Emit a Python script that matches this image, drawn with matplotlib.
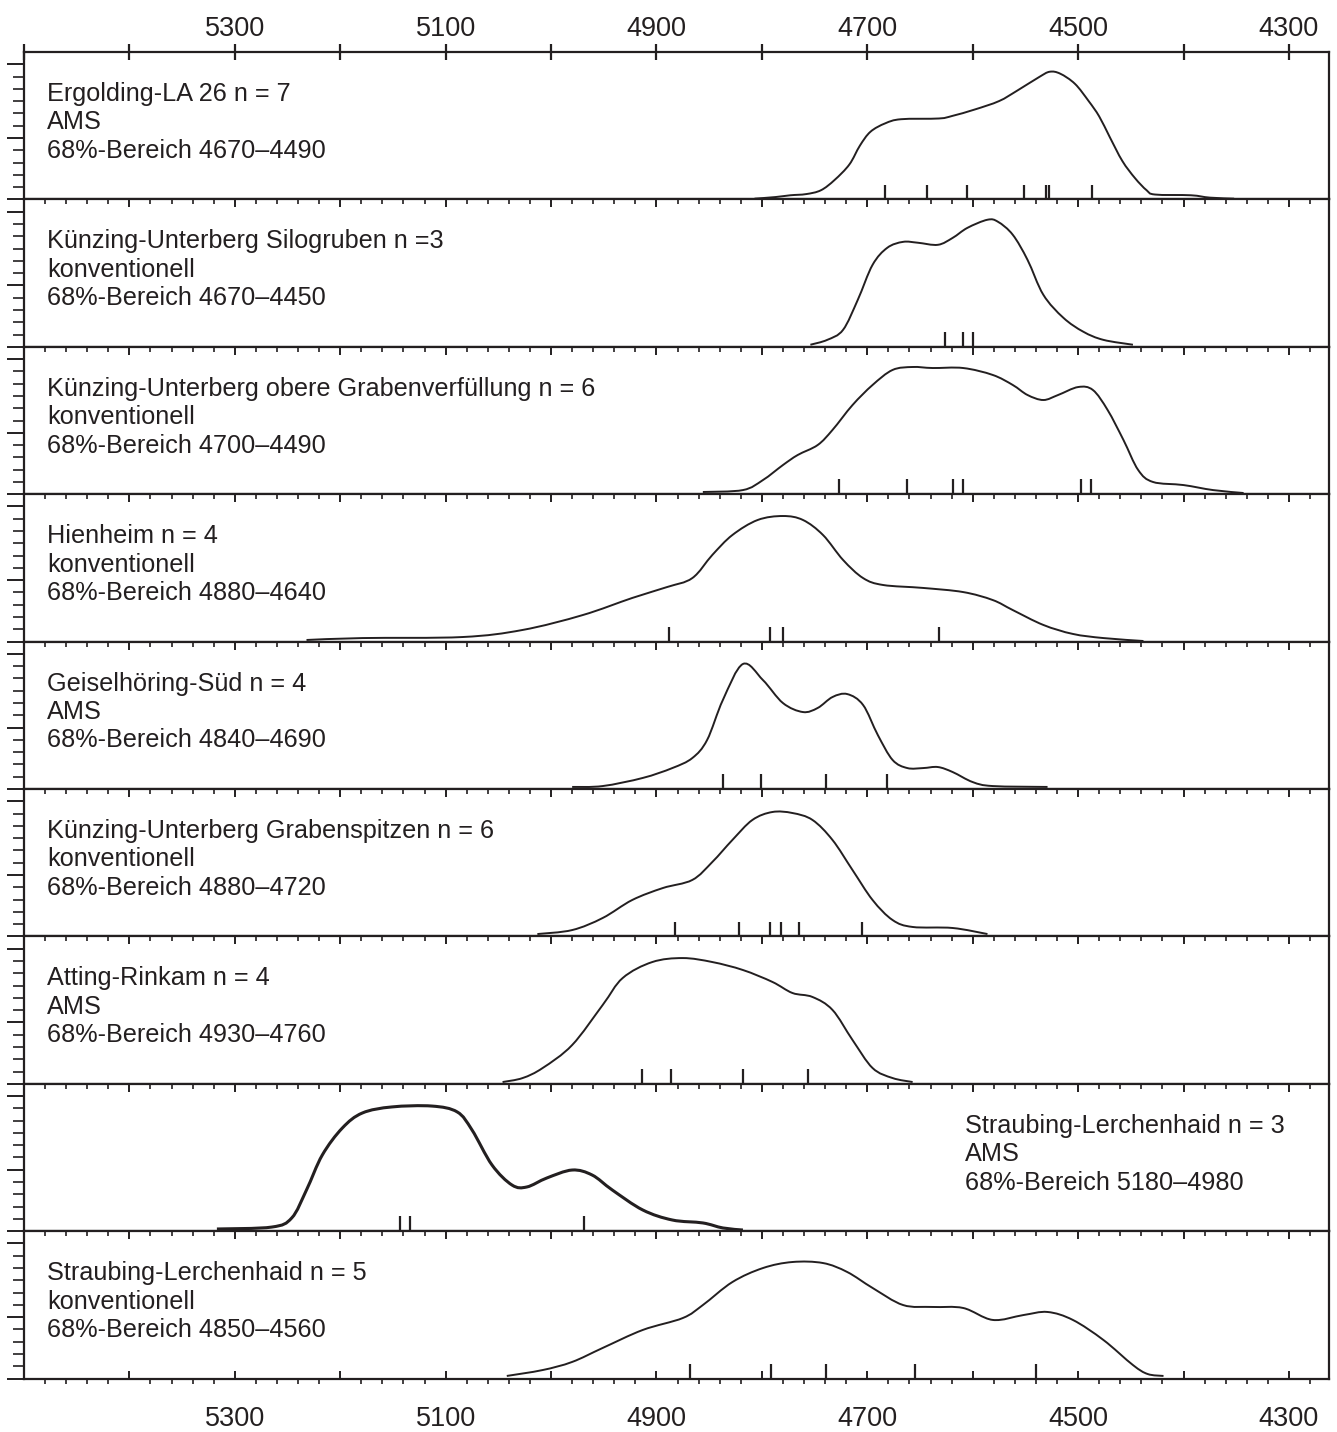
import matplotlib
matplotlib.use("Agg")
import numpy as np
import matplotlib.pyplot as plt
from matplotlib.path import Path
from matplotlib.patches import PathPatch
from matplotlib.ticker import MultipleLocator, FixedLocator, FuncFormatter

plt.rcParams['font.family'] = ['Liberation Sans', 'DejaVu Sans']

# ---- data: calibrated age (cal BC) and relative probability (% of panel height) ----
titles = [
    ["Ergolding-LA 26 n = 7", "AMS", "68%-Bereich 4670\u20134490"],
    ["K\u00fcnzing-Unterberg Silogruben n =3", "konventionell", "68%-Bereich 4670\u20134450"],
    ["K\u00fcnzing-Unterberg obere Grabenverf\u00fcllung n = 6", "konventionell", "68%-Bereich 4700\u20134490"],
    ["Hienheim n = 4", "konventionell", "68%-Bereich 4880\u20134640"],
    ["Geiselh\u00f6ring-S\u00fcd n = 4", "AMS", "68%-Bereich 4840\u20134690"],
    ["K\u00fcnzing-Unterberg Grabenspitzen n = 6", "konventionell", "68%-Bereich 4880\u20134720"],
    ["Atting-Rinkam n = 4", "AMS", "68%-Bereich 4930\u20134760"],
    ["Straubing-Lerchenhaid n = 3", "AMS", "68%-Bereich 5180\u20134980"],
    ["Straubing-Lerchenhaid n = 5", "konventionell", "68%-Bereich 4850\u20134560"],
]
year_labels = [5300, 5100, 4900, 4700, 4500, 4300]

ergolding_yr = [4807, 4787, 4773, 4758, 4744, 4731, 4717, 4707, 4697, 4683, 4668, 4632, 4619, 4598,
                4575, 4558, 4537, 4527, 4517, 4503, 4490, 4480, 4470, 4458, 4446, 4435, 4427, 4393,
                4375, 4352]
ergolding_p = [0.5, 1.6, 2.8, 3.6, 6.2, 13.2, 23.7, 36.5, 45.9, 51.6, 54.4, 54.9, 56.7, 61.0,
               66.7, 73.7, 83.0, 86.6, 85.3, 78.4, 66.7, 56.3, 42.3, 26.0, 14.4, 6.2, 3.3, 2.8,
               1.2, 0.5]
ergolding_dates = [4683, 4643, 4605, 4551, 4530, 4528, 4487]

silo_yr = [4754, 4738, 4723, 4709, 4695, 4681, 4666, 4652, 4633, 4619, 4605, 4586, 4576, 4562,
           4548, 4533, 4514, 4495, 4476, 4448]
silo_p = [1.4, 4.7, 11.5, 31.9, 55.6, 67.2, 71.2, 70.6, 69.2, 73.9, 80.7, 86.2, 84.8, 76.0,
          59.0, 35.3, 19.7, 10.2, 4.7, 1.4]
silo_dates = [4626, 4609, 4600]

graben_yr = [4856, 4818, 4799, 4780, 4766, 4747, 4733, 4714, 4695, 4676, 4657, 4638, 4609, 4581,
             4562, 4548, 4533, 4519, 4500, 4486, 4472, 4457, 4443, 4429, 4400, 4372, 4343]
graben_p = [1.5, 2.8, 9.6, 19.8, 26.6, 33.4, 43.6, 60.5, 74.1, 84.3, 86.3, 85.6, 85.6, 80.9,
            74.1, 67.3, 63.9, 67.3, 72.7, 70.7, 57.1, 36.8, 16.4, 8.3, 6.2, 2.8, 0.8]
graben_dates = [4727, 4662, 4619, 4609, 4497, 4488]

hienheim_yr = [5232, 5179, 5084, 5027, 4970, 4923, 4890, 4866, 4847, 4828, 4804, 4780, 4761, 4742,
               4723, 4704, 4685, 4647, 4609, 4581, 4562, 4533, 4505, 4476, 4438]
hienheim_p = [1.1, 2.4, 3.1, 7.9, 18.0, 29.6, 37.0, 43.1, 58.8, 72.3, 82.5, 85.2, 82.5, 72.3,
              55.4, 43.1, 38.4, 36.4, 33.6, 28.2, 21.4, 11.3, 5.2, 2.4, 0.4]
hienheim_dates = [4888, 4792, 4780, 4632]

geisel_yr = [4980, 4951, 4913, 4885, 4866, 4852, 4837, 4818, 4799, 4780, 4761, 4747, 4733, 4719,
             4704, 4690, 4676, 4662, 4647, 4633, 4619, 4600, 4581, 4529]
geisel_p = [1.4, 2.0, 7.5, 14.2, 21.0, 33.2, 60.4, 84.8, 73.9, 58.3, 52.2, 55.0, 62.4, 64.4,
            57.0, 36.6, 19.7, 14.2, 14.2, 14.9, 11.5, 4.7, 2.0, 1.4]
geisel_dates = [4837, 4801, 4739, 4681]

spitzen_yr = [5013, 4980, 4951, 4923, 4894, 4866, 4847, 4828, 4809, 4790, 4771, 4752, 4733, 4714,
              4695, 4676, 4657, 4619, 4586]
spitzen_p = [1.6, 4.3, 12.5, 24.7, 32.8, 38.3, 50.5, 65.4, 79.0, 84.4, 83.7, 79.0, 65.4, 45.0,
             24.7, 11.1, 6.4, 5.7, 1.6]
spitzen_dates = [4882, 4822, 4792, 4782, 4765, 4705]

atting_yr = [5046, 5027, 5008, 4980, 4951, 4932, 4904, 4875, 4847, 4818, 4790, 4771, 4752, 4733,
             4714, 4695, 4676, 4657]
atting_p = [1.2, 3.9, 10.7, 26.3, 53.5, 71.8, 82.6, 85.3, 82.6, 77.2, 69.1, 61.6, 58.9, 50.1,
            29.7, 10.7, 3.9, 1.2]
atting_dates = [4914, 4886, 4818, 4756]

str_ams_yr = [5317, 5265, 5246, 5232, 5217, 5198, 5179, 5151, 5113, 5089, 5075, 5056, 5037, 5023,
              5004, 4980, 4961, 4942, 4913, 4885, 4856, 4837, 4818]
str_ams_p = [1.5, 2.8, 9.0, 28.0, 51.7, 70.0, 80.2, 84.3, 84.9, 80.9, 68.7, 44.9, 31.3, 30.0,
             36.1, 41.5, 38.1, 28.0, 14.4, 7.6, 5.6, 2.2, 0.8]
str_ams_dates = [5143, 5134, 4969]

str_konv_yr = [5042, 5008, 4980, 4951, 4913, 4875, 4856, 4828, 4799, 4771, 4742, 4719, 4695, 4666,
               4638, 4609, 4581, 4552, 4529, 4505, 4476, 4448, 4434, 4419]
str_konv_p = [1.8, 5.8, 11.3, 20.8, 33.0, 41.1, 49.9, 65.5, 75.0, 79.1, 78.4, 72.3, 61.5, 49.9,
              48.6, 47.9, 39.8, 43.1, 45.2, 39.8, 26.2, 9.2, 3.1, 1.8]
str_konv_dates = [4868, 4791, 4739, 4655, 4540]

curves = [
    (ergolding_yr, ergolding_p, ergolding_dates),
    (silo_yr, silo_p, silo_dates),
    (graben_yr, graben_p, graben_dates),
    (hienheim_yr, hienheim_p, hienheim_dates),
    (geisel_yr, geisel_p, geisel_dates),
    (spitzen_yr, spitzen_p, spitzen_dates),
    (atting_yr, atting_p, atting_dates),
    (str_ams_yr, str_ams_p, str_ams_dates),
    (str_konv_yr, str_konv_p, str_konv_dates),
]

x_left, x_right = 5500, 4262
date_tick_height = 10.0

# ---- layout ----
W, H = 1337, 1432
fig = plt.figure(figsize=(W / 100, H / 100), dpi=100)
left, right = 24 / W, 1329 / W
top, bottom = 1 - 52 / H, 1 - 1378.6 / H
n = len(curves)
ph = (top - bottom) / n

ink = '#231f20'
lab_fs = 18.2
tick_fs = 19.5


def year_fmt(v, pos):
    v = int(round(v))
    return str(v) if v in year_labels else ''


def smooth_path(xs, ys):
    """Cubic Bezier path through every point (Catmull-Rom tangents)."""
    pts = np.column_stack([xs, ys]).astype(float)
    ext = np.vstack([pts[0], pts, pts[-1]])
    verts = [pts[0]]
    codes = [Path.MOVETO]
    for k in range(len(pts) - 1):
        p0, p1, p2, p3 = ext[k], ext[k + 1], ext[k + 2], ext[k + 3]
        c1 = p1 + (p2 - p0) / 6.0
        c2 = p2 - (p3 - p1) / 6.0
        verts += [c1, c2, p2]
        codes += [Path.CURVE4] * 3
    return Path(verts, codes)


for i, ((yr, p, dates), lines) in enumerate(zip(curves, titles)):
    ax = fig.add_axes([left, top - (i + 1) * ph, right - left, ph])
    ax.set_xlim(x_left, x_right)
    ax.set_ylim(0, 100)
    for s in ax.spines.values():
        s.set_linewidth(1.6)
        s.set_color(ink)

    lw = 2.2 if i == 7 else 1.4
    ax.add_patch(PathPatch(smooth_path(yr, p), fill=False, edgecolor=ink, lw=lw,
                           capstyle='butt', joinstyle='round'))
    ax.vlines(dates, 0, date_tick_height, color=ink, lw=1.6)

    # relative probability ticks on the left
    step = 100 / 12
    ax.yaxis.set_major_locator(FixedLocator([0, 5 * step, 11 * step]))
    ax.yaxis.set_minor_locator(FixedLocator([k * step for k in range(1, 12) if k not in (5, 11)]))
    ax.tick_params(axis='y', which='major', direction='out', length=12, width=1.4, color=ink,
                   labelleft=False)
    ax.tick_params(axis='y', which='minor', direction='out', length=8, width=1.2, color=ink)

    ax.xaxis.set_major_locator(MultipleLocator(100))
    if i == 0:
        ax.xaxis.set_minor_locator(FixedLocator([]))
        ax.tick_params(axis='x', which='major', top=True, bottom=False, labeltop=True,
                       labelbottom=False, direction='inout', length=11, width=1.6, color=ink,
                       labelsize=tick_fs, pad=2, labelcolor=ink)
        ax.xaxis.set_major_formatter(FuncFormatter(year_fmt))
    else:
        ax.xaxis.set_minor_locator(MultipleLocator(20))
        ax.tick_params(axis='x', which='major', top=True, bottom=(i == n - 1), labeltop=False,
                       labelbottom=(i == n - 1), direction='in', length=6, width=1.4, color=ink)
        ax.tick_params(axis='x', which='minor', top=True, bottom=(i == n - 1), direction='in',
                       length=3.8, width=1.2, color=ink)
        if i == n - 1:
            ax.xaxis.set_major_formatter(FuncFormatter(year_fmt))
            # bottom axis ticks point outward; top ticks of the same axes stay inward
            for t in ax.xaxis.get_major_ticks():
                t.tick1line.set_marker(3)  # TICKDOWN
                t.tick1line.set_markersize(9.5)
                t.label1.set_fontsize(tick_fs)
                t.label1.set_color(ink)
            for t in ax.xaxis.get_minor_ticks():
                t.tick1line.set_marker(3)
                t.tick1line.set_markersize(3.8)
            ax.tick_params(axis='x', which='major', pad=20)

    # panel caption
    tx = 0.0176 if i != 7 else 0.721
    axh_px = ph * H
    for k, line in enumerate(lines):
        yb = 1 - (49 + 28.4 * k) / axh_px
        ax.text(tx, yb, line, transform=ax.transAxes, fontsize=lab_fs, color=ink,
                ha='left', va='baseline')

fig.savefig('out.png', dpi=100)
